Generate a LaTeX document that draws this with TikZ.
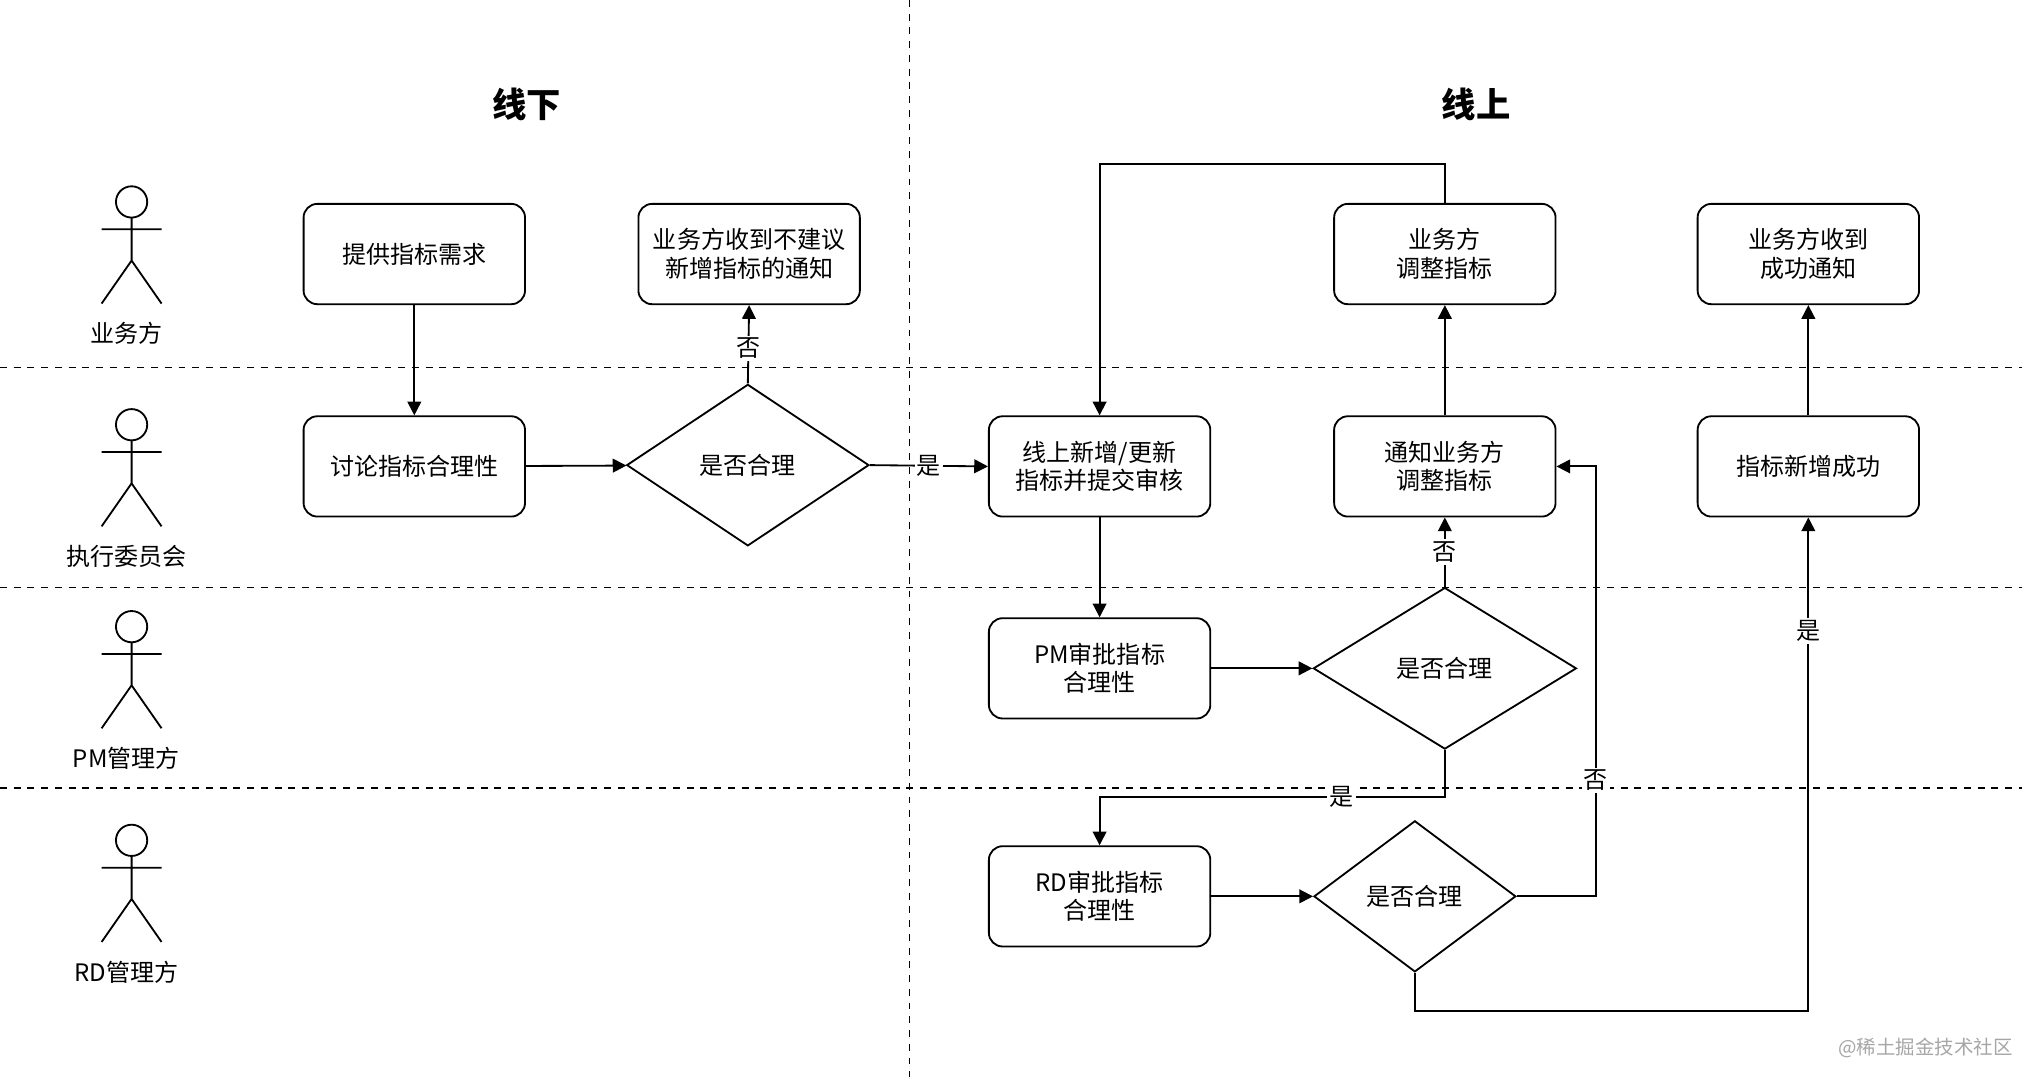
\documentclass[tikz,border=0pt]{standalone}
\usepackage{fontspec}
\setmainfont{Noto Sans CJK SC}
\usetikzlibrary{shapes.geometric,arrows.meta}
\begin{document}
\begin{tikzpicture}[x=0.02cm,y=-0.02cm,
  box/.style={draw,rounded corners=6pt,minimum width=3.4cm,minimum height=1.54cm,align=center,font=\fontsize{10.5}{12.5}\selectfont,line width=0.8pt},
  dia/.style={draw,diamond,aspect=1.5,inner sep=0pt,font=\fontsize{10.5}{12.5}\selectfont,line width=0.8pt},
  arr/.style={-{Triangle[length=6pt,width=6pt]},line width=0.8pt},
  lab/.style={fill=white,inner sep=1pt,font=\fontsize{10.5}{12.5}\selectfont},
  sep/.style={dash pattern=on 3pt off 3pt,line width=0.7pt},
  actor/.style={font=\fontsize{10.5}{12.5}\selectfont}]
\useasboundingbox (0,0) rectangle (1552,827);
\draw[sep] (698,0) -- (698,827);
\foreach \y in {282,451,605} \draw[sep] (0,\y) -- (1552,\y);
\node[font=\fontsize{15}{18}\selectfont\bfseries] (t1) at (404,80) {线下};
\node[font=\fontsize{15}{18}\selectfont\bfseries] (t2) at (1133,80) {线上};
\foreach \h/\t [count=\i] in {155/业务方,326/执行委员会,481/PM管理方,645/RD管理方}{
  \draw[line width=0.8pt] (101,\h) circle (12);
  \draw[line width=0.8pt] (101,\h+12) -- (101,\h+45) (78,\h+21) -- (124,\h+21)
     (78,\h+78) -- (101,\h+45) -- (124,\h+78);
  \node[actor] (a\i) at (97,\h+101) {\t};
}
\node[box] (b1) at (318,195) {提供指标需求};
\node[box] (b2) at (575,195) {业务方收到不建议\\新增指标的通知};
\node[box] (b3) at (318,358) {讨论指标合理性};
\node[dia,minimum width=3.72cm,minimum height=2.48cm] (d1) at (574,357) {是否合理};
\node[box] (b4) at (844,358) {线上新增/更新\\指标并提交审核};
\node[box] (b5) at (1109,195) {业务方\\调整指标};
\node[box] (b6) at (1388,195) {业务方收到\\成功通知};
\node[box] (b7) at (1109,358) {通知业务方\\调整指标};
\node[box] (b8) at (1388,358) {指标新增成功};
\node[box] (b9) at (844,513) {PM审批指标\\合理性};
\node[dia,minimum width=4.04cm,minimum height=2.48cm] (d2) at (1109,513) {是否合理};
\node[box] (b10) at (844,688) {RD审批指标\\合理性};
\node[dia,minimum width=3.1cm,minimum height=2.32cm] (d3) at (1086,688) {是否合理};
\draw[arr] (b1) -- (b3);
\draw[arr] (b3) -- (d1);
\draw[arr] (d1.north) -- node[lab,pos=0.45]{否} (b2.south);
\draw[arr] (d1.east) -- node[lab,pos=0.5]{是} (b4.west);
\draw[arr] (b4) -- (b9);
\draw[arr] (b9) -- (d2);
\draw[arr] (d2.south) -- (1109,612) -- node[lab,pos=0.3]{是} (844,612) -- (b10.north);
\draw[arr] (d2.north) -- node[lab,pos=0.5]{否} (b7.south);
\draw[arr] (b7) -- (b5);
\draw[arr] (b5.north) -- (1109,126) -- (844,126) -- (b4.north);
\draw[arr] (b10) -- (d3);
\draw[arr] (d3.east) -- (1225,688) -- node[lab,pos=0.27]{否} (1225,358) -- (b7.east);
\draw[arr] (d3.south) -- (1086,776) -- (1388,776) -- node[lab,pos=0.77]{是} (b8.south);
\draw[arr] (b8) -- (b6);
\node[text=gray!70,font=\fontsize{8.5}{10}\selectfont] (wm) at (1478,804) {@稀土掘金技术社区};
\end{tikzpicture}
\end{document}
